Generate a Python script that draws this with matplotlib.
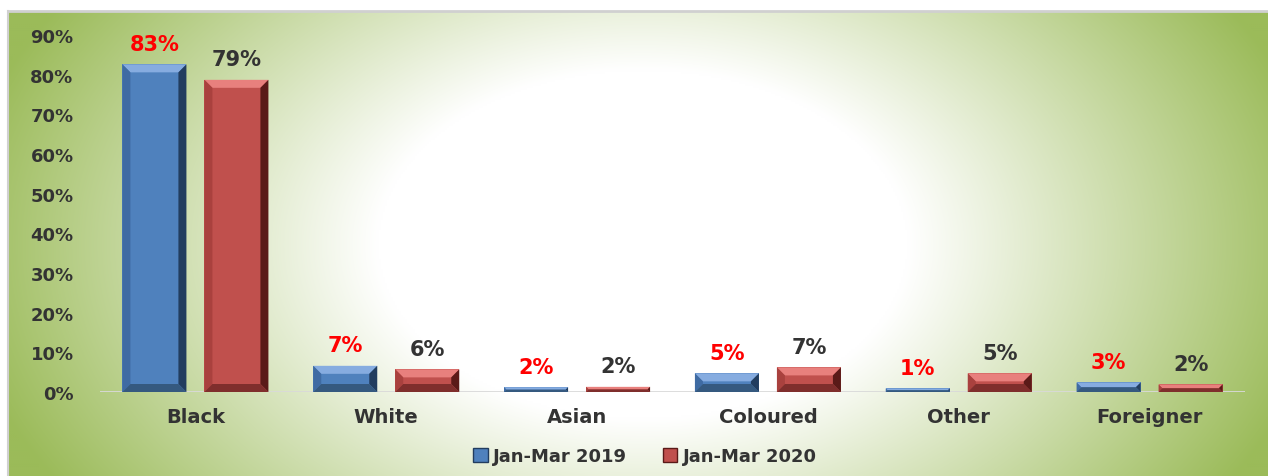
import matplotlib.pyplot as plt
import numpy as np
from matplotlib.patches import Polygon, Patch

categories = ['Black', 'White', 'Asian', 'Coloured', 'Other', 'Foreigner']
series = ['Jan-Mar 2019', 'Jan-Mar 2020']
vals_2019 = [0.826, 0.066, 0.012, 0.047, 0.009, 0.024]
vals_2020 = [0.787, 0.057, 0.013, 0.062, 0.047, 0.019]
labels_2019 = ['83%', '7%', '2%', '5%', '1%', '3%']
labels_2020 = ['79%', '6%', '2%', '7%', '5%', '2%']
yticks = [0, 0.1, 0.2, 0.3, 0.4, 0.5, 0.6, 0.7, 0.8, 0.9]

W, H = 1268, 477
fig = plt.figure(figsize=(W / 100, H / 100), dpi=100)

# background: elliptical gradient, white core -> green edges
bg = fig.add_axes([8 / W, 0, 1 - 8 / W, 465 / H])
bg.set_axis_off()
ny, nx = 233, 630
rows, cols = np.mgrid[0:ny, 0:nx]
px = 8 + cols * 2.0
py = 12 + rows * 2.0
r = np.sqrt(((px - 642) / 265) ** 2 + ((py - 245) / 175) ** 2)
t = np.clip((r - 1.0) / 1.6, 0, 1)
white = np.array([1.0, 1.0, 1.0])
green = np.array([0x9b, 0xbb, 0x59]) / 255
img = white * (1 - t[..., None]) + green * t[..., None]
bg.imshow(img, aspect='auto', extent=[0, 1, 0, 1], interpolation='bilinear')
bg.set_xlim(0, 1)
bg.set_ylim(0, 1)
bg.plot([0, 1], [1, 1], color='#d0d0d0', lw=2, clip_on=False)
bg.plot([0, 0], [0, 1], color='#d0d0d0', lw=1.5, clip_on=False)

ax = fig.add_axes([100 / W, 84 / H, 1145 / W, (393 - 36) / H])
ax.patch.set_alpha(0)
ax.set_xlim(-0.5, 5.5)
ax.set_ylim(0, 0.9)
for s in ax.spines.values():
    s.set_visible(False)
ax.axhline(0, color='#d9d9d9', lw=2, zorder=1)

px_x = 1145 / 6.0
px_y = (393 - 36) / 0.9
bw = 64 / px_x
off = 41 / px_x
bev = 8.0

blue = dict(face='#4f81bd', top='#86ace0', left='#3f6ba3', right='#223d5f', bot='#35597f')
red = dict(face='#c0504d', top='#e8807d', left='#a9413e', right='#5a1a18', bot='#7f2e2c')


def bevel_bar(x, h, c):
    x0, x1 = x - bw / 2, x + bw / 2
    b_px = min(bev, h * px_y / 2)
    bx = b_px / px_x
    by = b_px / px_y
    ax.add_patch(Polygon([(x0, 0), (x1, 0), (x1, h), (x0, h)], closed=True,
                         fc=c['face'], ec='none', zorder=2))
    ax.add_patch(Polygon([(x0, h), (x1, h), (x1 - bx, h - by), (x0 + bx, h - by)],
                         fc=c['top'], ec='none', zorder=3))
    ax.add_patch(Polygon([(x0, 0), (x0 + bx, by), (x0 + bx, h - by), (x0, h)],
                         fc=c['left'], ec='none', zorder=3))
    ax.add_patch(Polygon([(x1, 0), (x1 - bx, by), (x1 - bx, h - by), (x1, h)],
                         fc=c['right'], ec='none', zorder=3))
    ax.add_patch(Polygon([(x0, 0), (x1, 0), (x1 - bx, by), (x0 + bx, by)],
                         fc=c['bot'], ec='none', zorder=3))


x = np.arange(len(categories))
for i in range(len(categories)):
    bevel_bar(x[i] - off, vals_2019[i], blue)
    bevel_bar(x[i] + off, vals_2020[i], red)
    ax.text(x[i] - off, vals_2019[i] + 0.027, labels_2019[i], ha='center', va='bottom',
            color='#ff0000', fontsize=15, fontweight='bold')
    ax.text(x[i] + off, vals_2020[i] + 0.027, labels_2020[i], ha='center', va='bottom',
            color='#333333', fontsize=15, fontweight='bold')

ax.set_xticks(x)
ax.set_xticklabels(categories, fontsize=14, fontweight='bold', color='#333333')
ax.set_yticks(yticks)
ax.set_yticklabels([f'{int(round(v * 100))}%' for v in yticks], fontsize=13,
                   fontweight='bold', color='#333333')
ax.tick_params(length=0)
ax.tick_params(axis='x', pad=11)
ax.tick_params(axis='y', pad=19)

handles = [Patch(fc=blue['face'], ec=blue['right']), Patch(fc=red['face'], ec=red['right'])]
fig.legend(handles, series, loc='center', bbox_to_anchor=(645 / W, 1 - 457 / H), ncol=2,
           frameon=False, prop={'weight': 'bold', 'size': 13}, labelcolor='#333333',
           handlelength=0.8, handleheight=0.8, handletextpad=0.3, columnspacing=2.0)

fig.savefig('out.png', dpi=100)
